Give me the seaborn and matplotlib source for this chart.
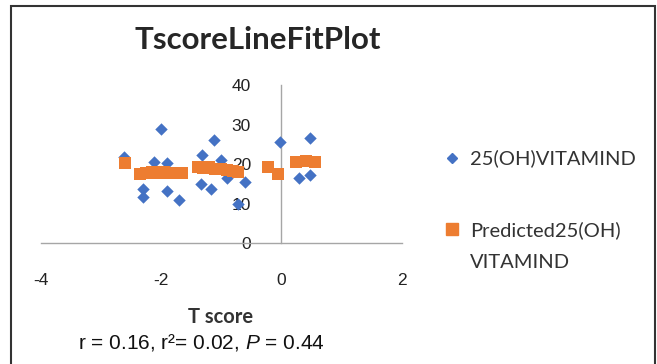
import matplotlib
matplotlib.use('Agg')
import matplotlib.pyplot as plt
import seaborn as sns
import pandas as pd
from matplotlib.lines import Line2D
from matplotlib.patches import Rectangle

# observed values
tscore = [-2.62, -2.12, -2.00, -1.90, -2.31, -2.31, -1.90, -1.70, -1.32, -1.34,
          -1.18, -1.12, -1.01, -0.90, -0.73, -0.60, -0.02, 0.29, 0.48, 0.48]
vitd = [21.8, 20.6, 28.8, 20.2, 13.8, 11.7, 13.2, 10.9, 22.3, 15.1,
        13.8, 26.1, 21.0, 16.4, 10.0, 15.5, 25.6, 16.4, 17.2, 26.5]

# predicted values
tscore_pred = [-2.61, -2.35, -2.25, -2.15, -2.05, -1.95, -1.85, -1.75, -1.66,
               -1.38, -1.30, -1.20, -1.10, -1.00, -0.90, -0.80, -0.72,
               -0.23, -0.05, 0.25, 0.40, 0.55]
vitd_pred = [20.3, 17.6, 17.8, 18.0, 17.7, 18.0, 17.8, 17.7, 17.8,
             19.3, 19.0, 19.2, 18.8, 18.7, 18.5, 18.2, 18.1,
             19.3, 17.4, 20.5, 20.7, 20.6]

x_ticks = [-4, -2, 0, 2]
y_ticks = [0, 10, 20, 30, 40]

blue = '#4472C4'
orange = '#ED7D31'

sns.set_style('white')
plt.rcParams['font.family'] = ['Liberation Sans', 'DejaVu Sans']
plt.rcParams['axes.unicode_minus'] = False
plt.rcParams['mathtext.fontset'] = 'custom'
plt.rcParams['mathtext.it'] = 'Liberation Sans:italic'
plt.rcParams['mathtext.rm'] = 'Liberation Sans'

fig = plt.figure(figsize=(6.57, 3.64), dpi=100)
ax = fig.add_axes([0.0624, 0.332, 0.549, 0.434])

obs = pd.DataFrame({'x': tscore, 'y': vitd})
pred = pd.DataFrame({'x': tscore_pred, 'y': vitd_pred})
sns.scatterplot(data=obs, x='x', y='y', marker='D', s=40, color=blue,
                edgecolor=blue, linewidth=0, ax=ax, zorder=3)
sns.scatterplot(data=pred, x='x', y='y', marker='s', s=75, color=orange,
                edgecolor=orange, linewidth=0, ax=ax, zorder=4)

ax.set_xlim(-4, 2)
ax.set_ylim(0, 40)
ax.set_xticks(x_ticks)
ax.set_yticks(y_ticks)
ax.set_xlabel('')
ax.set_ylabel('')
ax.spines['left'].set_position(('data', 0))
ax.spines['bottom'].set_position(('data', 0))
ax.spines['top'].set_visible(False)
ax.spines['right'].set_visible(False)
for s in ['left', 'bottom']:
    ax.spines[s].set_color('#A6A6A6')
    ax.spines[s].set_linewidth(1)
ax.tick_params(axis='x', direction='inout', length=7, color='#A6A6A6',
               labelsize=12.5, pad=18, labelcolor='#222222')
ax.tick_params(axis='y', direction='out', length=4, color='#A6A6A6',
               labelsize=12.5, pad=18, labelcolor='#222222')
ax.set_facecolor('none')
ax.patch.set_alpha(0)

fig.text(0.393, 0.89, 'TscoreLineFitPlot', ha='center', va='center',
         fontsize=22.5, fontweight='bold', family=['Lato', 'DejaVu Sans'])

fig.text(0.335, 0.128, 'T score', ha='center', va='center',
         fontsize=14.5, fontweight='bold', family=['Lato', 'DejaVu Sans'],
         color='#333333')
fig.text(0.306, 0.06, r'r = 0.16, r²= 0.02, $\mathit{P}$ = 0.44',
         ha='center', va='center', fontsize=15, color='#111111')

handles = [Line2D([], [], marker='D', color=blue, linestyle='none', markersize=5.5),
           Line2D([], [], marker='s', color=orange, linestyle='none', markersize=9)]
labels = ['25(OH)VITAMIND', 'Predicted25(OH)']
leg = fig.legend(handles, labels, loc='upper left', bbox_to_anchor=(0.66, 0.611),
                 frameon=False, prop={'family': 'Lato', 'size': 14.5},
                 labelspacing=2.65, handletextpad=0.4, handlelength=1.0,
                 labelcolor='#333333', borderaxespad=0)
fig.text(0.7155, 0.28, 'VITAMIND', ha='left', va='center',
         fontsize=14.5, family=['Lato', 'DejaVu Sans'], color='#333333')

fig.add_artist(Rectangle((11 / 657, -0.02), 644 / 657, 1 - 6 / 364 + 0.02,
                         transform=fig.transFigure, fill=False,
                         edgecolor='#333333', linewidth=1.5))

fig.savefig('out.png', dpi=100)
